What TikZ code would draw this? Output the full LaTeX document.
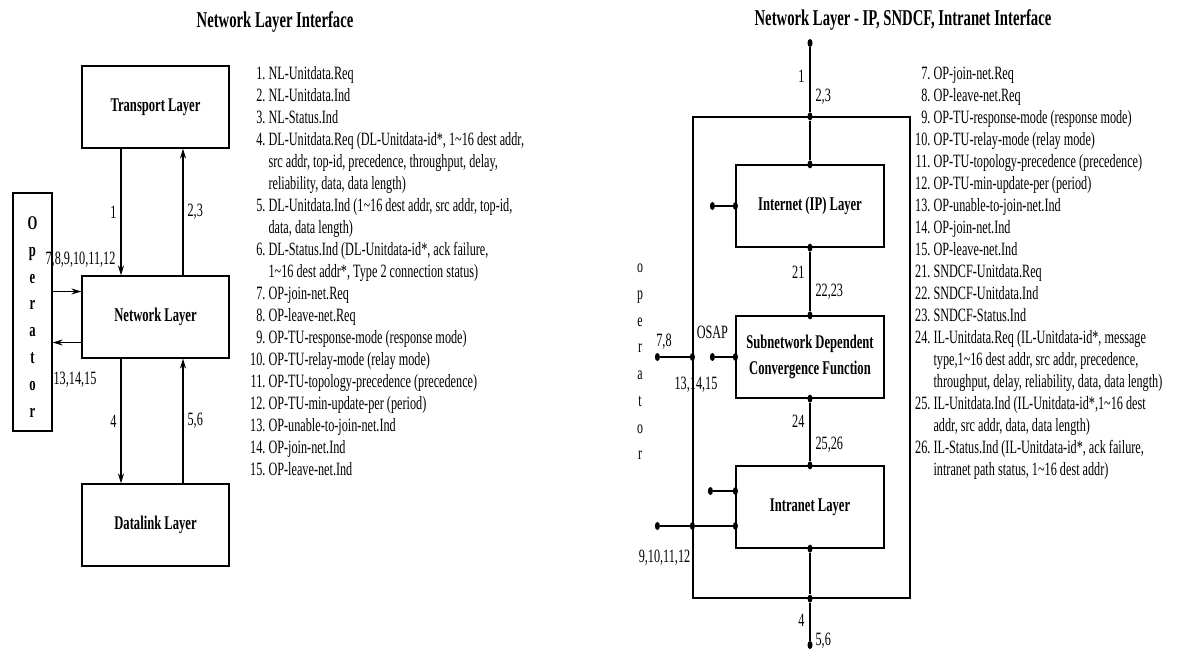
\documentclass[tikz,border=0pt]{standalone}
\usepackage{fontspec}
\setmainfont{Liberation Serif}[FakeStretch=0.65]
\usetikzlibrary{arrows.meta, positioning, shapes.geometric}

\begin{document}
\begin{tikzpicture}[x=1pt, y=-1pt,
  box/.style={draw, line width=1.2pt, minimum width=147pt, minimum height=82pt,
              align=center, font=\fontsize{19.4}{26}\bfseries\selectfont},
  arr/.style={-{Stealth[length=10pt,width=6pt]}, line width=1.2pt},
  conn/.style={line width=1.2pt},
  lbl/.style={font=\fontsize{18.8}{20}\selectfont, inner sep=0pt},
  dot/.style={ellipse, fill, inner sep=0pt, minimum width=5pt, minimum height=8pt},
  title/.style={font=\fontsize{22.6}{24}\bfseries\selectfont},
  list/.style={font=\fontsize{18.8}{22}\selectfont, inner sep=0pt, anchor=north west},
]
\useasboundingbox (0,0) rectangle (1201,656);

% left: network layer interface
\node[title] (t1) at (275,22) {Network Layer Interface};
\node[box] (tl) at (155.5,107) {Transport Layer};
\node[box] (nl) at (155.5,317) {Network Layer};
\node[box] (dl) at (155.5,525) {Datalink Layer};
\node[draw, line width=1.2pt, minimum width=39pt, minimum height=238pt] (op) at (32.5,312) {};
\node[font=\fontsize{19.4}{26.9}\bfseries\selectfont, align=center, inner sep=0pt] (opt) at (32.5,317) {O\\p\\e\\r\\a\\t\\o\\r};

\draw[arr] ([xshift=-34.5pt]tl.south) -- ([xshift=-34.5pt]nl.north) node[lbl, midway, left=4pt] {1};
\draw[arr] ([xshift=27.5pt]nl.north) -- ([xshift=27.5pt]tl.south) node[lbl, midway, right=4pt] {2,3};
\draw[arr] ([yshift=25.5pt]nl.west -| op.east) -- ([yshift=25.5pt]nl.west);
\draw[arr] ([yshift=-25.5pt]nl.west) -- ([yshift=-25.5pt]nl.west -| op.east);
\node[lbl] (l7) at (80.5,260) {7,8,9,10,11,12};
\node[lbl] (l13) at (75,380) {13,14,15};
\draw[arr] ([xshift=-34.5pt]nl.south) -- ([xshift=-34.5pt]dl.north) node[lbl, midway, left=4pt] {4};
\draw[arr] ([xshift=27.5pt]dl.north) -- ([xshift=27.5pt]nl.south) node[lbl, midway, right=4pt] {5,6};

\node[list] (ll) at (250,64) {\begin{tabular}{@{}r@{\ }l@{}}
1. & NL-Unitdata.Req\\
2. & NL-Unitdata.Ind\\
3. & NL-Status.Ind\\
4. & DL-Unitdata.Req (DL-Unitdata-id*, 1\textasciitilde16 dest addr,\\
   & src addr, top-id, precedence, throughput, delay,\\
   & reliability, data, data length)\\
5. & DL-Unitdata.Ind (1\textasciitilde16 dest addr, src addr, top-id,\\
   & data, data length)\\
6. & DL-Status.Ind (DL-Unitdata-id*, ack failure,\\
   & 1\textasciitilde16 dest addr*, Type 2 connection status)\\
7. & OP-join-net.Req\\
8. & OP-leave-net.Req\\
9. & OP-TU-response-mode (response mode)\\
10. & OP-TU-relay-mode (relay mode)\\
11. & OP-TU-topology-precedence (precedence)\\
12. & OP-TU-min-update-per (period)\\
13. & OP-unable-to-join-net.Ind\\
14. & OP-join-net.Ind\\
15. & OP-leave-net.Ind
\end{tabular}};

% right: IP, SNDCF, intranet
\node[title] (t2) at (903,20) {Network Layer - IP, SNDCF, Intranet Interface};
\node[draw, conn, minimum width=217pt, minimum height=481pt] (ob) at (801.5,357.5) {};
\node[box, minimum width=148pt] (ip) at (810,206) {Internet (IP) Layer};
\node[box, minimum width=148pt] (sn) at (810,357) {Subnetwork Dependent\\Convergence Function};
\node[box, minimum width=148pt] (il) at (810,507) {Intranet Layer};
\node[font=\fontsize{18.3}{26.7}\selectfont, align=center, inner sep=0pt] (op2) at (640,362) {o\\p\\e\\r\\a\\t\\o\\r};

\node[dot] (d1) at (ip.north |- 0,43) {};
\node[dot] (d2) at (ip.north |- ob.north) {};
\node[dot] (d3) at (ip.north) {};
\node[dot] (d4) at (ip.south) {};
\node[dot] (d5) at (sn.north) {};
\node[dot] (d6) at (sn.south) {};
\node[dot] (d7) at (il.north) {};
\node[dot] (d8) at (il.south) {};
\node[dot] (d9) at (il.south |- ob.south) {};
\node[dot] (d10) at (il.south |- 0,645) {};
\draw[conn] (d1) -- (d2) node[lbl, pos=0.45, left=5pt] {1} node[lbl, pos=0.76, right=5pt] {2,3};
\draw[conn] (d2) -- (d3);
\draw[conn] (d4) -- (d5) node[lbl, pos=0.35, left=5pt] {21} node[lbl, pos=0.68, right=5pt] {22,23};
\draw[conn] (d6) -- (d7) node[lbl, pos=0.32, left=5pt] {24} node[lbl, pos=0.71, right=5pt] {25,26};
\draw[conn] (d8) -- (d9);
\draw[conn] (d9) -- (d10) node[lbl, pos=0.47, left=5pt] {4} node[lbl, pos=1, right=5pt] {5,6};

\node[dot] (e1) at (ip.west) {};
\node[dot] (e1x) at ([xshift=-23pt]ip.west) {};
\draw[conn] (e1x) -- (e1);
\node[dot] (e2) at (sn.west) {};
\node[dot] (e2x) at ([xshift=-23pt]sn.west) {};
\draw[conn] (e2x) -- (e2);
\node[lbl, above=14pt of e2x] (osap) {OSAP};
\node[dot] (b1) at (ob.west |- sn.west) {};
\node[dot] (b1x) at ([xshift=-35pt]b1.center) {};
\draw[conn] (b1x) -- (b1);
\node[lbl] (l78) at (664,342) {7,8};
\node[lbl] (l1315) at (696,385) {13,14,15};
\node[dot] (e3) at ([yshift=16pt]il.west) {};
\node[dot] (e3x) at ([xshift=-25pt]e3.center) {};
\draw[conn] (e3x) -- (e3);
\node[dot] (e4) at ([yshift=-19pt]il.west) {};
\node[dot] (b2) at (ob.west |- e4) {};
\node[dot] (b2x) at ([xshift=-35pt]b2.center) {};
\draw[conn] (b2x) -- (b2) -- (e4);
\node[lbl] (l912) at (664.5,558) {9,10,11,12};

\node[list] (rl) at (915,64) {\begin{tabular}{@{}r@{\ }l@{}}
7. & OP-join-net.Req\\
8. & OP-leave-net.Req\\
9. & OP-TU-response-mode (response mode)\\
10. & OP-TU-relay-mode (relay mode)\\
11. & OP-TU-topology-precedence (precedence)\\
12. & OP-TU-min-update-per (period)\\
13. & OP-unable-to-join-net.Ind\\
14. & OP-join-net.Ind\\
15. & OP-leave-net.Ind\\
21. & SNDCF-Unitdata.Req\\
22. & SNDCF-Unitdata.Ind\\
23. & SNDCF-Status.Ind\\
24. & IL-Unitdata.Req (IL-Unitdata-id*, message\\
    & type,1\textasciitilde16 dest addr, src addr, precedence,\\
    & throughput, delay, reliability, data, data length)\\
25. & IL-Unitdata.Ind (IL-Unitdata-id*,1\textasciitilde16 dest\\
    & addr, src addr, data, data length)\\
26. & IL-Status.Ind (IL-Unitdata-id*, ack failure,\\
    & intranet path status, 1\textasciitilde16 dest addr)
\end{tabular}};
\end{tikzpicture}
\end{document}
